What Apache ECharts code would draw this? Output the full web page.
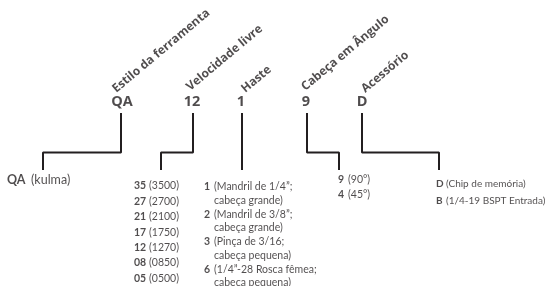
<!DOCTYPE html>
<html>
<head>
<meta charset="utf-8">
<script src="https://cdn.jsdelivr.net/npm/echarts/dist/echarts.min.js"></script>
<style>
html, body { margin: 0; padding: 0; background: #fff; }
#chart { width: 546px; height: 286px; }
</style>
</head>
<body>
<div id="chart"></div>
<script>
// partes do código do modelo
var headers = ['Estilo da ferramenta', 'Velocidade livre', 'Haste', 'Cabeça em Ângulo', 'Acessório'];
var codes = ['QA', '12', '1', '9', 'D'];

// opções de cada parte
var styleCodes = ['QA'];
var styleNames = ['(kulma)'];
var speedCodes = ['35', '27', '21', '17', '12', '08', '05'];
var speedRpm = ['(3500)', '(2700)', '(2100)', '(1750)', '(1270)', '(0850)', '(0500)'];
var shankCodes = ['1', '2', '3', '6'];
var shankNames = [
    '(Mandril de 1/4”;\ncabeça grande)',
    '(Mandril de 3/8”;\ncabeça grande)',
    '(Pinça de 3/16;\ncabeça pequena)',
    '(1/4”-28 Rosca fêmea;\ncabeça pequena)'
];
var angleCodes = ['9', '4'];
var angleNames = ['(90°)', '(45°)'];
var accCodes = ['D', 'B'];
var accNames = ['(Chip de memória)', '(1/4-19 BSPT Entrada)'];

// posições (em pixels do desenho)
var layout = {
    codeY: 102, topY: 113, elbowY: 152.5, bottomY: 170,
    codeX: [122, 192, 241, 306, 362],
    lineX: [121, 193, 242, 307, 362],
    dropX: [43, 161, 242, 339, 439],
    headX: [118, 192, 247, 307, 367],
    headY: [95, 93, 95, 93, 95]
};
var lists = [
    {codes: styleCodes, names: styleNames, x: 7, nameX: 31, y: 180, step: 15, size: 12.5, lh: 14},
    {codes: speedCodes, names: speedRpm, x: 134, nameX: 149, y: 186, step: 15.4, size: 10.5, lh: 14},
    {codes: shankCodes, names: shankNames, x: 204, nameX: 214, y: 187, step: 27.5, size: 10.5, lh: 13.5},
    {codes: angleCodes, names: angleNames, x: 338, nameX: 348, y: 180, step: 15, size: 10.5, lh: 14},
    {codes: accCodes, names: accNames, x: 436, nameX: 446, y: 184, step: 17, size: 10, lh: 14}
];

var ink = '#231f20';
var font = 'Lato, "Open Sans", sans-serif';
var headFont = '"Open Sans", Lato, sans-serif';

var chart = echarts.init(document.getElementById('chart'));
var series = [];

// títulos inclinados
series.push({
    type: 'scatter',
    symbolSize: 0,
    silent: true,
    data: headers.map(function (h, i) {
        return {name: h, value: [layout.headX[i], layout.headY[i]]};
    }),
    label: {
        show: true,
        position: 'inside',
        formatter: '{b}',
        rotate: 40,
        align: 'left',
        verticalAlign: 'bottom',
        color: ink,
        fontFamily: headFont,
        fontWeight: 'bold',
        fontSize: 12
    }
});

// código
series.push({
    type: 'scatter',
    symbolSize: 0,
    silent: true,
    data: codes.map(function (c, i) {
        return {name: c, value: [layout.codeX[i], layout.codeY]};
    }),
    label: {
        show: true,
        position: 'inside',
        formatter: '{b}',
        align: 'center',
        verticalAlign: 'middle',
        color: ink,
        fontFamily: headFont,
        fontWeight: 'bold',
        fontSize: 14.5
    }
});

// linhas de ligação
codes.forEach(function (c, i) {
    series.push({
        type: 'line',
        symbol: 'none',
        silent: true,
        lineStyle: {color: ink, width: 2},
        data: [
            [layout.lineX[i], layout.topY],
            [layout.lineX[i], layout.elbowY],
            [layout.dropX[i], layout.elbowY],
            [layout.dropX[i], layout.bottomY]
        ]
    });
});

// listas de opções
lists.forEach(function (l) {
    series.push({
        type: 'scatter',
        symbolSize: 0,
        silent: true,
        data: l.codes.map(function (c, i) {
            return {name: c, value: [l.x, l.y + i * l.step]};
        }),
        label: {
            show: true,
            position: 'inside',
            formatter: '{b}',
            align: 'left',
            verticalAlign: 'middle',
            color: ink,
            fontFamily: font,
            fontWeight: 'bold',
            fontSize: l.size
        }
    });
    series.push({
        type: 'scatter',
        symbolSize: 0,
        silent: true,
        data: l.names.map(function (n, i) {
            return {name: n, value: [l.nameX, l.y + i * l.step - l.lh / 2]};
        }),
        label: {
            show: true,
            position: 'inside',
            formatter: '{b}',
            align: 'left',
            verticalAlign: 'top',
            lineHeight: l.lh,
            color: ink,
            fontFamily: font,
            fontSize: l.size
        }
    });
});

chart.setOption({
    animation: false,
    grid: {left: 0, right: 0, top: 0, bottom: 0},
    xAxis: {type: 'value', min: 0, max: 546, show: false},
    yAxis: {type: 'value', min: 0, max: 286, inverse: true, show: false},
    series: series
});

window.onresize = function () {
    chart.resize();
};
</script>
</body>
</html>
